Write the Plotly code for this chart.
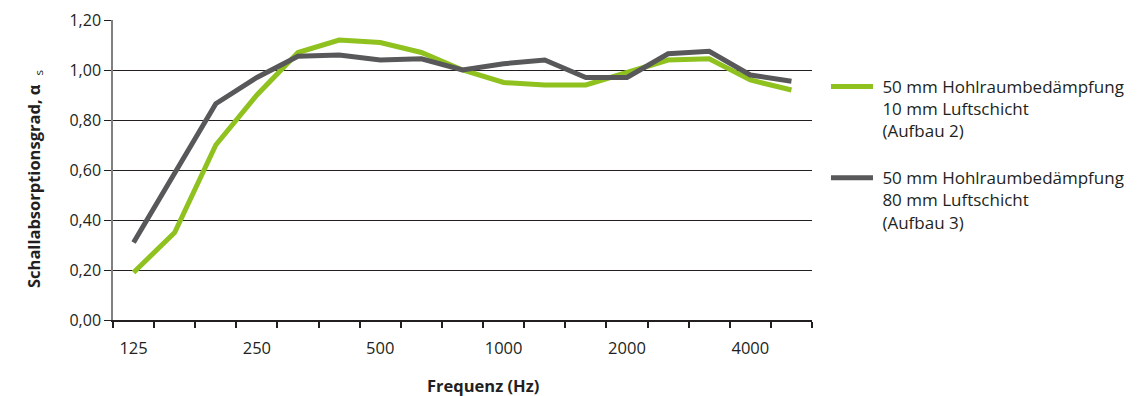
import plotly.graph_objects as go

# Terzband-Mittenfrequenzen (Hz)
frequenzen = [125, 160, 200, 250, 315, 400, 500, 630, 800, 1000,
              1250, 1600, 2000, 2500, 3150, 4000, 5000]
tick_labels = ["125", "250", "500", "1000", "2000", "4000"]

# Schallabsorptionsgrad alpha_s
aufbau_2 = [0.19, 0.35, 0.70, 0.90, 1.07, 1.12, 1.11, 1.07, 1.00, 0.95,
            0.94, 0.94, 0.99, 1.04, 1.045, 0.96, 0.92]
aufbau_3 = [0.31, 0.59, 0.865, 0.97, 1.055, 1.06, 1.04, 1.045, 1.00, 1.025,
            1.04, 0.97, 0.97, 1.065, 1.075, 0.98, 0.955]

sp = "\u00a0"
name_2 = sp + "50 mm Hohlraumbedämpfung<br>" + sp + "10 mm Luftschicht<br>" + sp + "(Aufbau 2)"
name_3 = sp + "50 mm Hohlraumbedämpfung<br>" + sp + "80 mm Luftschicht<br>" + sp + "(Aufbau 3)"

green = "#8fc11f"
grey = "#58585a"
font_family = "Open Sans, Lato, sans-serif"

idx = list(range(len(frequenzen)))

fig = go.Figure()
fig.add_trace(go.Scatter(x=idx, y=aufbau_2, mode="lines", name=name_2,
                         legendgroup="a", line=dict(color=green, width=5)))
fig.add_trace(go.Scatter(x=idx, y=aufbau_3, mode="lines", name=name_3,
                         legendgroup="b", line=dict(color=grey, width=5)))

# die Seite hat 8px Rand, daher Figur etwas kleiner
fig.update_layout(
    width=1132,
    height=388,
    margin=dict(l=105, r=328, t=12, b=76, autoexpand=False),
    paper_bgcolor="white",
    plot_bgcolor="white",
    separators=",.",
    font=dict(family=font_family, size=16, color="#231f20"),
    showlegend=True,
    legend=dict(
        x=1.02, y=0.837, xanchor="left", yanchor="top",
        valign="top", tracegroupgap=22, itemwidth=42,
        font=dict(size=17),
        bgcolor="rgba(0,0,0,0)",
    ),
)

fig.update_xaxes(
    range=[-0.5, len(frequenzen) - 0.5],
    tickmode="array",
    tickvals=[frequenzen.index(int(t)) for t in tick_labels],
    ticktext=tick_labels,
    tickfont=dict(size=16.5),
    ticks="",
    ticklabelstandoff=12,
    automargin=False,
    showgrid=False,
    showline=True, linecolor="#231f20", linewidth=1.5,
    zeroline=False,
    minor=dict(tickmode="linear", tick0=-0.5, dtick=1, ticks="outside",
               ticklen=6, tickcolor="#231f20", tickwidth=1.5, showgrid=False),
)
fig.update_yaxes(
    range=[0, 1.2],
    dtick=0.2,
    tickformat=".2f",
    ticks="outside", ticklen=7, tickcolor="#231f20",
    automargin=False,
    showgrid=True, gridcolor="#231f20", gridwidth=1,
    showline=True, linecolor="#808080", linewidth=1.5,
    zeroline=False,
)

fig.add_annotation(text="<b>Frequenz (Hz)</b>", xref="paper", yref="paper",
                   x=(483 - 113) / 699, y=-0.217, xanchor="center",
                   yanchor="middle", showarrow=False, font=dict(size=16.5))
fig.add_annotation(text="<b>Schallabsorptionsgrad, α</b><sub>   s</sub>",
                   xref="paper", yref="paper", x=-0.113, y=0.47,
                   xanchor="center", yanchor="middle",
                   textangle=-90, showarrow=False, font=dict(size=16.5))

fig.write_html("out.html")
